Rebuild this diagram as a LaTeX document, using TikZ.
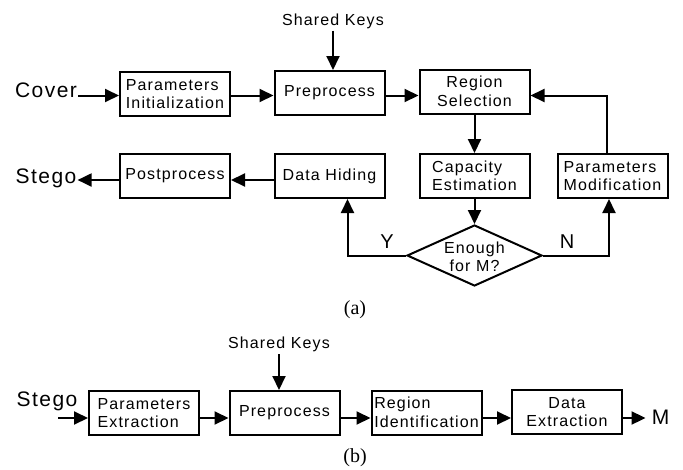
\documentclass[tikz,border=0pt]{standalone}
\usepackage{fontspec}
\setmainfont{Liberation Sans}[LetterSpace=7]
\newfontfamily\capfont{Liberation Serif}
\usetikzlibrary{arrows.meta,shapes.geometric,calc}
\begin{document}
\begin{tikzpicture}[x=1pt,y=-1pt,
  box/.style={draw, line width=2pt, minimum width=110pt, minimum height=44pt, inner sep=0pt, font=\fontsize{16}{18.5}\selectfont},
  boxl/.style={box, align=left},
  boxc/.style={box, align=center},
  lbl/.style={inner sep=1pt, font=\fontsize{21}{24}\selectfont},
  keysty/.style={inner sep=2pt, font=\fontsize{16}{18}\selectfont},
  arr/.style={line width=2pt, -{Triangle[length=14pt,width=13pt]}},
  yn/.style={inner sep=0pt, font=\fontsize{20}{22}\selectfont},
  figcap/.style={inner sep=0pt, font=\capfont\fontsize{20}{22}\selectfont},
]
\useasboundingbox (0,0) rectangle (683,469);
% arrow levels
\coordinate (r1) at (0,95.5);
\coordinate (r2) at (0,180);
\coordinate (r3) at (0,418);

% ---------- (a) ----------
\node[lbl, anchor=base] (cover) at (46,97.5) {Cover};
\node[keysty, anchor=base] (keys) at (333,25) {Shared Keys};
\node[boxl] (pinit) at (175,94) {Parameters\\Initialization};
\node[boxc] (prep) at (329.5,93) {Preprocess};
\node[boxc] (rsel) at (474.5,91.5) {Region\\Selection};

\node[lbl, anchor=base] (stego) at (46,183) {Stego};
\node[boxc] (post) at (175,176) {Postprocess};
\node[boxc] (hide) at (329.5,176) {Data Hiding};
\node[boxl] (capest) at (474.5,176) {Capacity\\Estimation};
\node[boxl] (pmod) at (612.5,176) {Parameters\\Modification};

\node[diamond, draw, line width=2pt, minimum width=135pt, minimum height=61pt, inner sep=0pt] (dec) at (474.5,255.5) {};
\node[align=center, inner sep=0pt, font=\fontsize{16}{18.5}\selectfont] (dect) at (474.5,257) {Enough\\for M?};
\node[yn] (Y) at (387,242) {Y};
\node[yn] (N) at (567,242) {N};
\node[figcap] (la) at (355,310) {(a)};

\coordinate (hidein) at ([xshift=18pt]hide.south);
\coordinate (pmodin) at ([xshift=-3.5pt]pmod.south);
\coordinate (pmodout) at ([xshift=-6pt]pmod.north);

\draw[arr] (cover.east |- r1) -- (pinit.west |- r1);
\draw[arr] (pinit.east |- r1) -- (prep.west |- r1);
\draw[arr] (prep.east |- r1) -- (rsel.west |- r1);
\draw[arr] (keys.south) -- (keys.south |- prep.north);
\draw[arr] (rsel.south) -- (capest.north);
\draw[arr] (capest.south) -- (dec.north);
\draw[arr] (dec.west) -| (hidein);
\draw[arr] (dec.east) -| (pmodin);
\draw[arr] (pmodout) |- (rsel.east |- r1);
\draw[arr] (hide.west |- r2) -- (post.east |- r2);
\draw[arr] (post.west |- r2) -- (stego.east |- r2);

% ---------- (b) ----------
\node[lbl, anchor=base] (stego2) at (47,406) {Stego};
\coordinate (sin) at (58,418);
\node[keysty, anchor=base] (keys2) at (279,348.5) {Shared Keys};
\node[boxl] (pext) at (144,413) {Parameters\\Extraction};
\node[boxc] (prep2) at (284.5,413) {Preprocess};
\node[boxl] (regid) at (426.5,412.5) {Region\\Identification};
\node[boxc] (dext) at (567,412) {Data\\Extraction};
\node[lbl, inner sep=0pt] (M) at (660.5,417) {M};
\node[figcap] (lb) at (355,458) {(b)};

\draw[arr] (sin) -- (pext.west |- sin);
\draw[arr] (pext.east |- r3) -- (prep2.west |- r3);
\draw[arr] (keys2.south) -- (keys2.south |- prep2.north);
\draw[arr] (prep2.east |- r3) -- (regid.west |- r3);
\draw[arr] (regid.east |- r3) -- (dext.west |- r3);
\draw[arr, shorten >=6pt] (dext.east |- r3) -- (M.west |- r3);
\end{tikzpicture}
\end{document}
